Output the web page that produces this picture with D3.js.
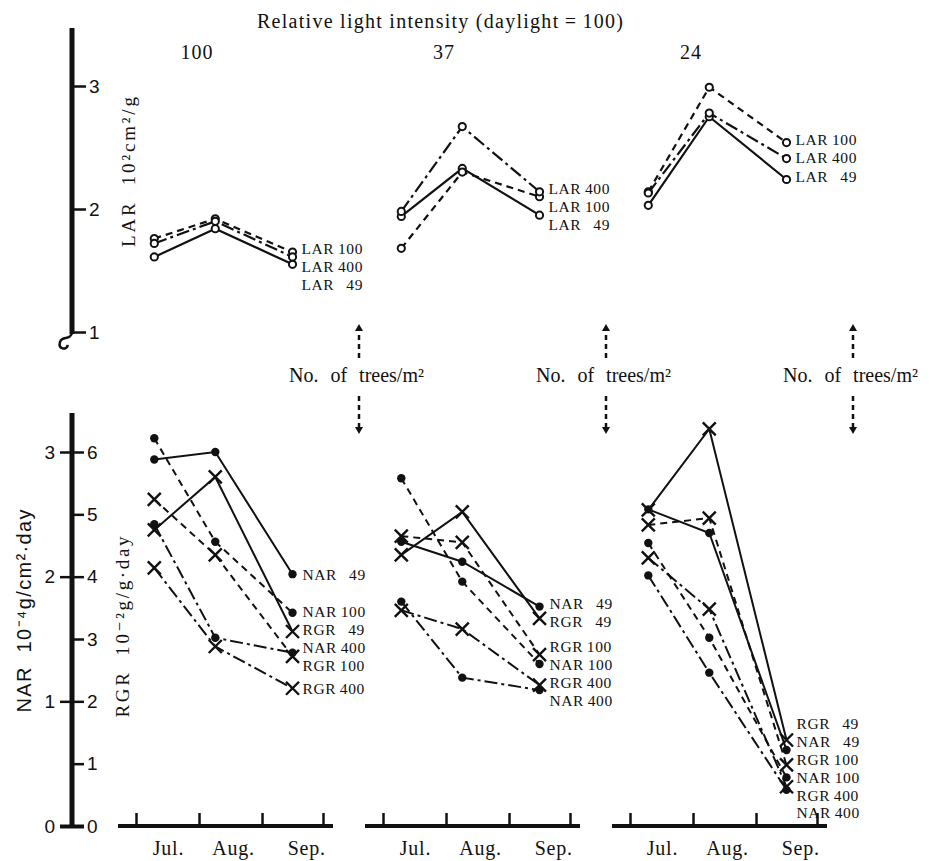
<!DOCTYPE html>
<html>
<head>
<meta charset="utf-8">
<script src="https://cdn.jsdelivr.net/npm/d3@7"></script>
<style>
  body { margin: 0; background: #fff; }
  svg text { font-family: "Liberation Serif", "DejaVu Serif", serif; fill: #111; white-space: pre; }
  svg text.sans { font-family: "Liberation Sans", Arial, sans-serif; }
</style>
</head>
<body>
<svg id="chart" width="951" height="861"></svg>
<script>
const lightLevels = ["100", "37", "24"];
const densities = [49, 100, 400];
const months = ["Jul.", "Aug.", "Sep."];
const sampleDates = ["2000-07-10", "2000-08-09", "2000-09-16"];
const monthStarts = ["2000-07-01", "2000-08-01", "2000-09-01", "2000-10-01"];
const monthLabelDates = ["2000-07-17", "2000-08-18", "2000-09-23"];

// LAR (10^2 cm2/g), one row per light level: [Jul, Aug, Sep]
const lar49  = [[1.61, 1.84, 1.55], [1.94, 2.33, 1.95], [2.03, 2.75, 2.24]];
const lar100 = [[1.76, 1.92, 1.65], [1.68, 2.30, 2.10], [2.14, 2.99, 2.54]];
const lar400 = [[1.72, 1.90, 1.61], [1.98, 2.67, 2.14], [2.13, 2.78, 2.41]];

// NAR (10^-4 g/cm2/day)
const nar49  = [[2.94, 3.00, 2.02], [2.28, 2.12, 1.76], [2.54, 2.35, 0.61]];
const nar100 = [[3.11, 2.28, 1.71], [2.79, 1.96, 1.30], [2.27, 1.51, 0.39]];
const nar400 = [[2.42, 1.51, 1.39], [1.80, 1.19, 1.09], [2.01, 1.23, 0.29]];

// RGR (10^-2 g/g/day)
const rgr49  = [[4.75, 5.60, 3.12], [4.35, 5.04, 3.33], [5.07, 6.37, 1.38]];
const rgr100 = [[5.24, 4.35, 2.72], [4.65, 4.55, 2.75], [4.83, 4.94, 0.98]];
const rgr400 = [[4.14, 2.88, 2.21], [3.46, 3.16, 2.26], [4.30, 3.48, 0.63]];

const larTicks = [1, 2, 3];
const narTicks = [0, 1, 2, 3];
const rgrTicks = [0, 1, 2, 3, 4, 5, 6];

const dashFor = { 49: null, 100: "7,5", 400: "13,4,3,4" };

const parse = d3.timeParse("%Y-%m-%d");
const dates = sampleDates.map(parse);

const svg = d3.select("#chart");
const AXIS_X = 72;
const PANEL_X0 = 136, PANEL_STEP = 247, PANEL_W = 187;
const LABEL_SIZE = 15.5, LABEL_GAP = 18;

const yLAR = d3.scaleLinear().domain([1, 3]).range([332, 86]);
const yRGR = d3.scaleLinear().domain([0, 6]).range([826, 452]);
const yNAR = d3.scaleLinear().domain([0, 3]).range([826, 452]);

const xScales = lightLevels.map((_, i) => d3.scaleTime()
    .domain([parse(monthStarts[0]), parse(monthStarts[3])])
    .range([PANEL_X0 + i * PANEL_STEP, PANEL_X0 + PANEL_W + i * PANEL_STEP]));

const larSeries = [
    { name: "LAR", density: 49, values: lar49 },
    { name: "LAR", density: 100, values: lar100 },
    { name: "LAR", density: 400, values: lar400 }
];
const lowerSeries = [
    { name: "NAR", density: 49, values: nar49, y: yNAR, mark: "dot" },
    { name: "NAR", density: 100, values: nar100, y: yNAR, mark: "dot" },
    { name: "NAR", density: 400, values: nar400, y: yNAR, mark: "dot" },
    { name: "RGR", density: 49, values: rgr49, y: yRGR, mark: "cross" },
    { name: "RGR", density: 100, values: rgr100, y: yRGR, mark: "cross" },
    { name: "RGR", density: 400, values: rgr400, y: yRGR, mark: "cross" }
];

const labelText = (name, dens) => dens < 100 ? `${name}\u2009\u2007${dens}` : `${name}\u2009${dens}`;

// spread overlapping end labels, either symmetric or pushing downwards only
function spreadLabels(items, gap, downOnly) {
    items.sort((a, b) => a.y - b.y);
    for (let iter = 0; iter < 300; iter++) {
        let moved = false;
        for (let i = 1; i < items.length; i++) {
            const d = items[i].y - items[i - 1].y;
            if (d < gap - 0.05) {
                if (downOnly) {
                    items[i].y = items[i - 1].y + gap;
                } else {
                    const push = (gap - d) / 2;
                    items[i - 1].y -= push;
                    items[i].y += push;
                }
                moved = true;
            }
        }
        if (!moved) break;
    }
    return items;
}

// ---------- header ----------
svg.append("text")
    .attr("x", 257).attr("y", 28)
    .attr("font-size", 20)
    .attr("textLength", 366).attr("lengthAdjust", "spacing")
    .text("Relative light intensity (daylight\u2009=\u2009100)");

lightLevels.forEach((lv, i) => {
    svg.append("text")
        .attr("x", xScales[i](parse(monthStarts[1])) - 2)
        .attr("y", 59)
        .attr("text-anchor", "middle")
        .attr("font-size", 20)
        .attr("letter-spacing", 1)
        .text(lv);
});

// ---------- left axes ----------
const axisG = svg.append("g");

axisG.append("line")
    .attr("x1", AXIS_X).attr("x2", AXIS_X)
    .attr("y1", 28).attr("y2", 334)
    .attr("stroke", "#111").attr("stroke-width", 5);
axisG.append("path")
    .attr("d", `M${AXIS_X},333 C${AXIS_X - 2},341 ${AXIS_X - 10},335 ${AXIS_X - 12},342 C${AXIS_X - 14},349 ${AXIS_X - 6},351 ${AXIS_X - 4},345`)
    .attr("fill", "none").attr("stroke", "#111").attr("stroke-width", 2.5);

function styleAxis(g, size) {
    g.select(".domain").remove();
    g.selectAll(".tick line").attr("stroke", "#111").attr("stroke-width", 2.5);
    g.selectAll(".tick text")
        .attr("class", "sans")
        .attr("font-size", size)
        .attr("fill", "#111");
}

axisG.append("g")
    .attr("transform", `translate(${AXIS_X},0)`)
    .call(d3.axisRight(yLAR).tickValues(larTicks).tickSize(14).tickPadding(3).tickFormat(d3.format("d")))
    .call(g => styleAxis(g, 19));

axisG.append("line")
    .attr("x1", AXIS_X).attr("x2", AXIS_X)
    .attr("y1", 413).attr("y2", 828)
    .attr("stroke", "#111").attr("stroke-width", 5);

axisG.append("g")
    .attr("transform", `translate(${AXIS_X},0)`)
    .call(d3.axisLeft(yNAR).tickValues(narTicks).tickSize(12).tickPadding(5).tickFormat(d3.format("d")))
    .call(g => styleAxis(g, 19));

axisG.append("g")
    .attr("transform", `translate(${AXIS_X},0)`)
    .call(d3.axisRight(yRGR).tickValues(rgrTicks).tickSize(12).tickPadding(3).tickFormat(d3.format("d")))
    .call(g => styleAxis(g, 19));

axisG.selectAll(".tick").filter(d => d === 0).select("line").attr("stroke-width", 4);

// rotated axis titles
function rotatedLabel(x, y, txt, len, size, cls) {
    svg.append("text")
        .attr("class", cls || null)
        .attr("transform", `translate(${x},${y}) rotate(-90)`)
        .attr("text-anchor", "middle")
        .attr("font-size", size)
        .attr("textLength", len).attr("lengthAdjust", "spacing")
        .text(txt);
}
rotatedLabel(135, 172, "LAR  10\u00b2cm\u00b2/g", 150, 19);
rotatedLabel(129, 627, "RGR  10\u207b\u00b2g/g\u00b7day", 181, 19);
rotatedLabel(31, 611, "NAR  10\u207b\u2074g/cm\u00b2\u00b7day", 203, 20, "sans");

// ---------- panels ----------
const crossPath = s => `M${-s},${-s}L${s},${s}M${-s},${s}L${s},${-s}`;

lightLevels.forEach((lv, p) => {
    const x = xScales[p];
    const g = svg.append("g").attr("class", "panel");

    // LAR lines
    larSeries.forEach(s => {
        g.append("path")
            .datum(s.values[p])
            .attr("d", d3.line().x((d, i) => x(dates[i])).y(d => yLAR(d)))
            .attr("fill", "none")
            .attr("stroke", "#111")
            .attr("stroke-width", 2.2)
            .attr("stroke-dasharray", dashFor[s.density]);
    });
    larSeries.forEach(s => {
        g.selectAll(null)
            .data(s.values[p])
            .join("circle")
            .attr("cx", (d, i) => x(dates[i]))
            .attr("cy", d => yLAR(d))
            .attr("r", 3.6)
            .attr("fill", "#fff")
            .attr("stroke", "#111")
            .attr("stroke-width", 2);
    });

    const larLabels = spreadLabels(larSeries.map(s => ({
        text: labelText(s.name, s.density),
        y: yLAR(s.values[p][2])
    })), LABEL_GAP, true);
    g.selectAll(null)
        .data(larLabels)
        .join("text")
        .attr("x", x(dates[2]) + 9)
        .attr("y", d => d.y - 3)
        .attr("dy", "0.35em")
        .attr("font-size", LABEL_SIZE)
        .attr("letter-spacing", 0.6)
        .text(d => d.text);

    // NAR / RGR lines
    lowerSeries.forEach(s => {
        g.append("path")
            .datum(s.values[p])
            .attr("d", d3.line().x((d, i) => x(dates[i])).y(d => s.y(d)))
            .attr("fill", "none")
            .attr("stroke", "#111")
            .attr("stroke-width", 2)
            .attr("stroke-dasharray", dashFor[s.density]);
    });
    lowerSeries.forEach(s => {
        const pts = s.values[p].map((v, i) => [x(dates[i]), s.y(v)]);
        if (s.mark === "dot") {
            g.selectAll(null).data(pts).join("circle")
                .attr("cx", d => d[0]).attr("cy", d => d[1])
                .attr("r", 4.2).attr("fill", "#111");
        } else {
            g.selectAll(null).data(pts).join("path")
                .attr("transform", d => `translate(${d[0]},${d[1]})`)
                .attr("d", crossPath(6.5))
                .attr("fill", "none").attr("stroke", "#111").attr("stroke-width", 2.4);
        }
    });

    const lowLabels = spreadLabels(lowerSeries.map(s => ({
        text: labelText(s.name, s.density),
        y: s.y(s.values[p][2])
    })), LABEL_GAP, false);
    g.selectAll(null)
        .data(lowLabels)
        .join("text")
        .attr("x", x(dates[2]) + 10)
        .attr("y", d => d.y)
        .attr("dy", "0.35em")
        .attr("font-size", LABEL_SIZE)
        .attr("letter-spacing", 0.6)
        .text(d => d.text);

    // month axis
    const [r0, r1] = x.range();
    g.append("line")
        .attr("x1", r0 - 18).attr("x2", r1 + 10)
        .attr("y1", 826).attr("y2", 826)
        .attr("stroke", "#111").attr("stroke-width", 4);
    g.append("g")
        .attr("transform", "translate(0,826)")
        .call(d3.axisBottom(x).tickValues(monthStarts.map(parse)).tickSize(-13).tickFormat(""))
        .call(a => {
            a.select(".domain").remove();
            a.selectAll(".tick line").attr("stroke", "#111").attr("stroke-width", 2.5);
        });
    g.selectAll(null)
        .data(months)
        .join("text")
        .attr("x", (d, i) => x(parse(monthLabelDates[i])))
        .attr("y", 855)
        .attr("text-anchor", "middle")
        .attr("font-size", 20)
        .attr("letter-spacing", 0.8)
        .text(d => d);

    // "No. of trees/m2" with dashed arrows
    const ax = r1 + 36;
    g.append("text")
        .attr("x", ax - 70).attr("y", 382)
        .attr("font-size", 20)
        .attr("word-spacing", 7)
        .text("No. of trees/m\u00b2");
    [[358, 324], [396, 434]].forEach(([from, to]) => {
        g.append("line")
            .attr("x1", ax).attr("x2", ax)
            .attr("y1", from).attr("y2", to + (to < from ? 5 : -5))
            .attr("stroke", "#111").attr("stroke-width", 2.5)
            .attr("stroke-dasharray", "5,4");
        const dir = to < from ? 1 : -1;
        g.append("path")
            .attr("d", `M${ax},${to}L${ax - 4},${to + dir * 7}L${ax + 4},${to + dir * 7}Z`)
            .attr("fill", "#111");
    });
});
</script>
</body>
</html>
